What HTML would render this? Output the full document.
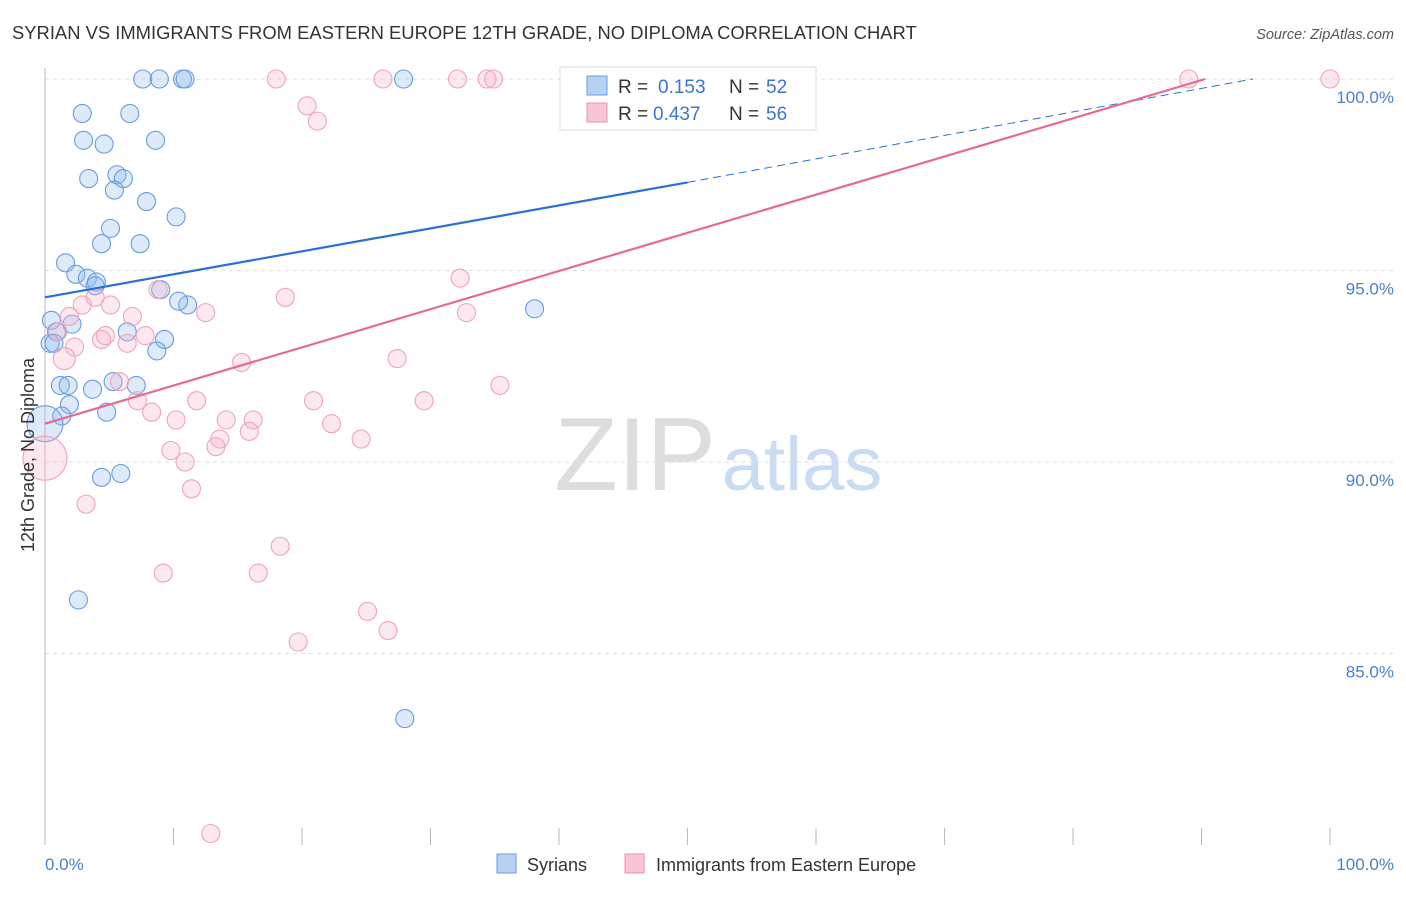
<!DOCTYPE html>
<html><head><meta charset="utf-8"><style>
body{margin:0;background:#fff;font-family:"Liberation Sans",sans-serif;}
svg text{font-family:"Liberation Sans",sans-serif;}
</style></head><body>
<svg id="chart" width="1406" height="892" viewBox="0 0 1406 892" xmlns="http://www.w3.org/2000/svg">
<text x="12" y="39" font-size="18.4" fill="#333">SYRIAN VS IMMIGRANTS FROM EASTERN EUROPE 12TH GRADE, NO DIPLOMA CORRELATION CHART</text>
<text x="1394" y="39" font-size="14.5" fill="#555" text-anchor="end" font-style="italic">Source: ZipAtlas.com</text>
<g>
<text x="635" y="490" font-size="104" fill="#ddd" text-anchor="middle" font-family="Liberation Serif, serif">ZIP</text>
<text x="802" y="490" font-size="76" fill="#c9dcf3" text-anchor="middle">atlas</text>
</g>
<g id="grid"></g>
<g id="axes"></g>
<g id="points"></g>
<g id="trends"></g>
<text transform="translate(34,455) rotate(-90)" font-size="18" fill="#333" text-anchor="middle">12th Grade, No Diploma</text>
<text x="45" y="870" font-size="17" fill="#4a7fd4">0.0%</text>
<text x="1394" y="870" font-size="17" fill="#4a7fd4" text-anchor="end">100.0%</text>
<g>
<rect x="560" y="67" width="256" height="63" fill="#fff" stroke="#ddd"/>
<rect x="587" y="76" width="20" height="19" fill="#b7d1f3" stroke="#6a9be0"/>
<rect x="587" y="103" width="20" height="19" fill="#f8c6d5" stroke="#ea92ad"/>
<text x="618" y="93" font-size="19" fill="#333">R =</text>
<text x="658" y="93" font-size="19" fill="#3a76d0">0.153</text>
<text x="729" y="93" font-size="19" fill="#333">N =</text>
<text x="766" y="93" font-size="19" fill="#3a76d0">52</text>
<text x="618" y="120" font-size="19" fill="#333">R =</text>
<text x="653" y="120" font-size="19" fill="#3a76d0">0.437</text>
<text x="729" y="120" font-size="19" fill="#333">N =</text>
<text x="766" y="120" font-size="19" fill="#3a76d0">56</text>
</g>
<g>
<rect x="497" y="854" width="19" height="19" fill="#b7d1f3" stroke="#6a9be0"/>
<text x="527" y="871" font-size="18" fill="#333">Syrians</text>
<rect x="625" y="854" width="19" height="19" fill="#f8c6d5" stroke="#ea92ad"/>
<text x="656" y="871" font-size="18" fill="#333">Immigrants from Eastern Europe</text>
</g>
</svg>
<script>
const yTicks=[100,95,90,85];
const xTicks=[0,10,20,30,40,50,60,70,80,90,100];
const syrX=[7.6,8.9,10.7,10.9,27.9,47.1,2.9,6.6,3.0,4.6,8.6,5.6,3.4,6.1,5.4,7.9,10.2,5.1,4.4,7.4,1.6,2.4,3.3,4.0,3.9,11.1,10.4,9.0,38.1,0.5,2.1,0.9,6.4,9.3,0.4,0.7,8.7,1.2,1.8,3.7,5.3,7.1,1.9,1.3,4.8,0,4.4,5.9,2.6,28.0];
const syrY=[100,100,100,100,100,100,99.1,99.1,98.4,98.3,98.4,97.5,97.4,97.4,97.1,96.8,96.4,96.1,95.7,95.7,95.2,94.9,94.8,94.7,94.6,94.1,94.2,94.5,94.0,93.7,93.6,93.4,93.4,93.2,93.1,93.1,92.9,92.0,92.0,91.9,92.1,92.0,91.5,91.2,91.3,91.0,89.6,89.7,86.4,83.3];
const syrR=[9,9,9,9,9,9,9,9,9,9,9,9,9,9,9,9,9,9,9,9,9,9,9,9,9,9,9,9,9,9,9,9,9,9,9,9,9,9,9,9,9,9,9,9,9,18,9,9,9,9];
const eeX=[18.0,26.3,32.1,34.4,34.9,89.0,100,20.4,21.2,32.3,18.7,8.8,3.9,2.9,5.1,12.5,32.8,6.8,1.9,1.0,4.7,7.8,4.4,6.4,2.3,1.5,15.3,27.4,35.4,5.8,7.2,8.3,11.8,20.9,29.5,10.2,14.1,16.2,22.3,15.9,13.6,13.3,24.6,9.8,10.9,0,11.4,3.2,18.3,9.2,16.6,25.1,26.7,19.7,12.9];
const eeY=[100,100,100,100,100,100,100,99.3,98.9,94.8,94.3,94.5,94.3,94.1,94.1,93.9,93.9,93.8,93.8,93.4,93.3,93.3,93.2,93.1,93.0,92.7,92.6,92.7,92.0,92.1,91.6,91.3,91.6,91.6,91.6,91.1,91.1,91.1,91.0,90.8,90.6,90.4,90.6,90.3,90.0,90.1,89.3,88.9,87.8,87.1,87.1,86.1,85.6,85.3,80.3];
const eeR=[9,9,9,9,9,9,9,9,9,9,9,9,9,9,9,9,9,9,9,9,9,9,9,9,9,11,9,9,9,9,9,9,9,9,9,9,9,9,9,9,9,9,9,9,9,22,9,9,9,9,9,9,9,9,9];
const syrTrend=[0,94.3,50,97.3,94,100];
const eeTrend=[0,91.0,90.3,100];
const NS="http://www.w3.org/2000/svg";
const X=v=>45+v*12.85, Y=v=>79+(100-v)*38.3;
function mk(tag,attrs,parent){const e=document.createElementNS(NS,tag);for(const k in attrs)e.setAttribute(k,attrs[k]);document.getElementById(parent).appendChild(e);return e;}
yTicks.forEach(t=>{
 const l=mk('line',{x1:45,x2:1394,y1:Y(t),y2:Y(t),stroke:'#ddd','stroke-dasharray':'4,4'},'grid');
 
 
 const tx=mk('text',{x:1394,y:Y(t)+24,'font-size':17,fill:'#4a7fd4','text-anchor':'end'},'grid');tx.textContent=t.toFixed(1)+'%';
 
 
});
const ax=mk('line',{x1:45,x2:45,y1:68,y2:845,stroke:'#bbb'},'axes');


xTicks.forEach(t=>{
 const l=mk('line',{x1:X(t),x2:X(t),y1:828,y2:845,stroke:'#bbb'},'axes');
 
 
});
syrX.forEach((v,i)=>{
 const c=mk('circle',{cx:X(v),cy:Y(syrY[i]),r:syrR[i],fill:'rgba(140,185,240,0.3)',stroke:'#6a9be0','stroke-width':1.1},'points');
 
 
});
eeX.forEach((v,i)=>{
 const c=mk('circle',{cx:X(v),cy:Y(eeY[i]),r:eeR[i],fill:'rgba(247,180,202,0.3)',stroke:'#eea4bb','stroke-width':1.1},'points');
 
 
});
const t1=mk('line',{x1:X(syrTrend[0]),y1:Y(syrTrend[1]),x2:X(syrTrend[2]),y2:Y(syrTrend[3]),stroke:'#2a6fd6','stroke-width':2.2},'trends');


const t1d=mk('line',{x1:X(syrTrend[2]),y1:Y(syrTrend[3]),x2:X(syrTrend[4]),y2:Y(syrTrend[5]),stroke:'#2a6fd6','stroke-width':1,'stroke-dasharray':'8,5'},'trends');


const t2=mk('line',{x1:X(eeTrend[0]),y1:Y(eeTrend[1]),x2:X(eeTrend[2]),y2:Y(eeTrend[3]),stroke:'#e56a94','stroke-width':2.2},'trends');


</script>
</body></html>
